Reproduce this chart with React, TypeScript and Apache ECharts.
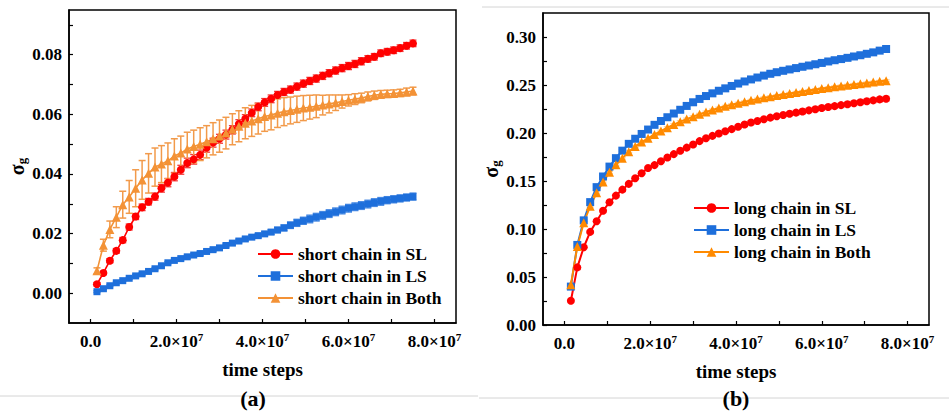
import React, { useEffect, useRef } from "react";
import * as echarts from "echarts";

// time steps in units of 1e6
const timeStepsM = [1.5,3,4.5,6,7.5,9,10.5,12,13.5,15,16.5,18,19.5,21,22.5,24,25.5,27,28.5,30,31.5,33,34.5,36,37.5,39,40.5,42,43.5,45,46.5,48,49.5,51,52.5,54,55.5,57,58.5,60,61.5,63,64.5,66,67.5,69,70.5,72,73.5,75];

const shortSL = [0.0030,0.0068,0.0109,0.0142,0.0178,0.0222,0.0257,0.0288,0.0307,0.0324,0.0352,0.0371,0.0391,0.0414,0.0437,0.0449,0.0464,0.0488,0.0505,0.0518,0.0532,0.0548,0.0568,0.0585,0.0605,0.0625,0.0640,0.0652,0.0665,0.0675,0.0683,0.0693,0.0703,0.0712,0.0720,0.0729,0.0738,0.0747,0.0755,0.0762,0.0769,0.0778,0.0786,0.0793,0.0805,0.0810,0.0815,0.0822,0.0830,0.0838];
const shortSLErr = [0.0006,0.0006,0.0007,0.0008,0.0009,0.001,0.001,0.0011,0.0011,0.0012,0.0013,0.0014,0.0014,0.0015,0.0016,0.0016,0.0016,0.0015,0.0015,0.0015,0.0015,0.0014,0.0014,0.0014,0.0013,0.0013,0.0013,0.0013,0.0012,0.0012,0.0012,0.0012,0.0012,0.0012,0.0012,0.0012,0.0012,0.0012,0.0012,0.0012,0.0012,0.0012,0.0011,0.0011,0.0011,0.0011,0.0011,0.0011,0.0011,0.0011];

const shortLS = [0.0005,0.0015,0.0025,0.0035,0.0042,0.0050,0.0058,0.0065,0.0073,0.0082,0.0092,0.0102,0.0110,0.0116,0.0122,0.0128,0.0133,0.0140,0.0146,0.0152,0.0160,0.0168,0.0175,0.0182,0.0188,0.0193,0.0199,0.0205,0.0212,0.0219,0.0228,0.0236,0.0243,0.0249,0.0255,0.0261,0.0267,0.0273,0.0279,0.0285,0.0290,0.0294,0.0299,0.0304,0.0308,0.0312,0.0315,0.0318,0.0321,0.0324];
const shortLSErr = [0.0003,0.0003,0.0003,0.0003,0.0003,0.0003,0.0004,0.0004,0.0004,0.0004,0.0004,0.0004,0.0004,0.0004,0.0005,0.0005,0.0005,0.0005,0.0005,0.0005,0.0005,0.0006,0.0006,0.0006,0.0006,0.0007,0.0007,0.0008,0.0009,0.001,0.0011,0.0012,0.0012,0.0013,0.0013,0.0013,0.0013,0.0013,0.0013,0.0013,0.0013,0.0013,0.0013,0.0013,0.0013,0.0012,0.0012,0.0012,0.0012,0.0012];

const shortBoth = [0.0075,0.0161,0.0214,0.0255,0.0297,0.0323,0.0352,0.0380,0.0402,0.0423,0.0433,0.0444,0.0460,0.0470,0.0484,0.0492,0.0500,0.0508,0.0518,0.0527,0.0537,0.0550,0.0560,0.0570,0.0578,0.0585,0.0593,0.0598,0.0604,0.0609,0.0613,0.0617,0.0621,0.0624,0.0627,0.0631,0.0635,0.0639,0.0643,0.0647,0.0651,0.0655,0.0660,0.0664,0.0667,0.0669,0.0670,0.0672,0.0675,0.0678];
const shortBothErr = [0.001,0.002,0.0028,0.0035,0.0045,0.0055,0.0062,0.0065,0.0066,0.0064,0.0062,0.006,0.0058,0.0057,0.0056,0.0055,0.0055,0.0054,0.0054,0.0054,0.0053,0.0052,0.0052,0.0052,0.0052,0.0051,0.005,0.005,0.0048,0.0047,0.0045,0.0044,0.0042,0.004,0.0038,0.0033,0.003,0.0026,0.0022,0.0019,0.0018,0.0016,0.0015,0.0014,0.0013,0.0012,0.0012,0.0012,0.0013,0.0013];

const longSL = [0.0253,0.060,0.081,0.097,0.108,0.119,0.1278,0.1348,0.141,0.147,0.1528,0.158,0.1636,0.1665,0.1705,0.1745,0.178,0.1815,0.1848,0.188,0.1915,0.1945,0.197,0.1995,0.2018,0.204,0.2065,0.2088,0.211,0.2125,0.2143,0.216,0.2175,0.2188,0.22,0.2212,0.2224,0.2236,0.2248,0.226,0.227,0.228,0.229,0.23,0.231,0.232,0.233,0.234,0.235,0.2357];
const longSLErr = [0.001,0.001,0.001,0.001,0.001,0.001,0.001,0.001,0.001,0.001,0.001,0.001,0.001,0.001,0.001,0.001,0.001,0.001,0.001,0.001,0.0015,0.0015,0.0015,0.0015,0.0015,0.0015,0.0015,0.0015,0.0015,0.0015,0.0015,0.0015,0.0015,0.0015,0.0015,0.0025,0.0025,0.0025,0.0025,0.0025,0.0025,0.0025,0.0025,0.0025,0.0025,0.0025,0.0025,0.0025,0.0025,0.0025];

const longLS = [0.040,0.0834,0.109,0.128,0.1436,0.1547,0.165,0.1738,0.1816,0.1887,0.194,0.199,0.2036,0.2085,0.2125,0.2164,0.2203,0.2242,0.2282,0.232,0.2355,0.2385,0.2413,0.244,0.2465,0.249,0.2515,0.2537,0.2558,0.2578,0.2598,0.2617,0.2633,0.2648,0.2662,0.2676,0.269,0.2703,0.2716,0.273,0.2745,0.2758,0.277,0.2783,0.2797,0.281,0.2825,0.284,0.2858,0.2875];
const longLSErr = [0.001,0.001,0.001,0.001,0.001,0.001,0.001,0.001,0.001,0.001,0.001,0.001,0.001,0.001,0.001,0.003,0.003,0.003,0.003,0.003,0.003,0.003,0.003,0.003,0.003,0.003,0.003,0.003,0.003,0.003,0.003,0.003,0.003,0.003,0.003,0.003,0.003,0.003,0.003,0.003,0.002,0.002,0.002,0.002,0.002,0.002,0.002,0.002,0.002,0.002];

const longBoth = [0.042,0.0817,0.1065,0.1237,0.1377,0.149,0.159,0.1668,0.1738,0.1805,0.186,0.1905,0.1945,0.1985,0.202,0.2055,0.2088,0.2118,0.2145,0.217,0.2195,0.2218,0.224,0.226,0.2278,0.2295,0.231,0.2325,0.234,0.2353,0.2366,0.2378,0.239,0.2401,0.2412,0.2423,0.2433,0.2443,0.2453,0.2463,0.2472,0.2481,0.249,0.2498,0.2506,0.2514,0.2522,0.253,0.2538,0.2545];
const longBothErr = [0.001,0.001,0.001,0.001,0.001,0.001,0.001,0.001,0.001,0.001,0.001,0.001,0.001,0.001,0.001,0.001,0.001,0.001,0.001,0.001,0.001,0.001,0.001,0.001,0.001,0.001,0.001,0.001,0.001,0.001,0.001,0.001,0.001,0.001,0.001,0.001,0.001,0.001,0.001,0.001,0.001,0.001,0.001,0.001,0.001,0.001,0.001,0.001,0.001,0.001];

const xLabelValues = [0, 2e7, 4e7, 6e7, 8e7];
const xTickValues = [0, 1e7, 2e7, 3e7, 4e7, 5e7, 6e7, 7e7, 8e7];
const yLabelsA = [0, 0.02, 0.04, 0.06, 0.08];
const yTicksA = [0, 0.01, 0.02, 0.03, 0.04, 0.05, 0.06, 0.07, 0.08, 0.09];
const yLabelsB = [0, 0.05, 0.1, 0.15, 0.2, 0.25, 0.3];
const yTicksB = [0, 0.025, 0.05, 0.075, 0.1, 0.125, 0.15, 0.175, 0.2, 0.225, 0.25, 0.275, 0.3];

const namesA = ["short chain in SL", "short chain in LS", "short chain in Both"];
const namesB = ["long chain in SL", "long chain in LS", "long chain in Both"];

const FONT = "'Liberation Serif', 'Times New Roman', serif";

const RED = "#FF0000";
const BLUE = "#1E6FDB";
const ORANGE_A = "#F39236";
const ORANGE_B = "#FF8A00";

function pts(vals: number[]) {
  return vals.map((v, i) => [timeStepsM[i] * 1e6, v]);
}
function errPts(vals: number[], errs: number[]) {
  return vals.map((v, i) => [timeStepsM[i] * 1e6, v, errs[i]]);
}

function lineSeries(name: string, idx: number, vals: number[], color: string, symbol: string, size: number, lw: number) {
  return {
    type: "line",
    name,
    xAxisIndex: idx,
    yAxisIndex: idx,
    data: pts(vals),
    symbol,
    symbolSize: size,
    showSymbol: true,
    lineStyle: { color, width: lw },
    itemStyle: { color },
    z: 3,
  };
}

function errSeries(name: string, idx: number, vals: number[], errs: number[], color: string, width: number) {
  return {
    type: "custom",
    name,
    xAxisIndex: idx,
    yAxisIndex: idx,
    data: errPts(vals, errs),
    silent: true,
    z: 2,
    encode: { x: 0, y: 1 },
    renderItem: (params: any, api: any) => {
      const x = api.value(0);
      const y = api.value(1);
      const e = api.value(2);
      const lo = api.coord([x, y - e]);
      const hi = api.coord([x, y + e]);
      const w = 3.5;
      const st = { stroke: color, lineWidth: width };
      return {
        type: "group",
        children: [
          { type: "line", shape: { x1: lo[0], y1: lo[1], x2: hi[0], y2: hi[1] }, style: st },
          { type: "line", shape: { x1: lo[0] - w, y1: lo[1], x2: lo[0] + w, y2: lo[1] }, style: st },
          { type: "line", shape: { x1: hi[0] - w, y1: hi[1], x2: hi[0] + w, y2: hi[1] }, style: st },
        ],
      };
    },
  };
}

const labelRich = {
  b: { fontFamily: FONT, fontWeight: "bold", fontSize: 17, color: "#000", lineHeight: 20 },
  sup: { fontFamily: FONT, fontWeight: "bold", fontSize: 11, color: "#000", lineHeight: 10, verticalAlign: "top" },
};

function xAxis(gridIndex: number) {
  return {
    type: "value",
    gridIndex,
    min: -5e6,
    max: 8.5e7,
    name: "time steps",
    nameLocation: "middle",
    nameGap: 37,
    nameTextStyle: { fontFamily: FONT, fontWeight: "bold", fontSize: 19, color: "#000" },
    axisLine: { show: true, onZero: false, lineStyle: { color: "#000", width: 1.5 } },
    axisTick: { show: true, inside: true, length: 4, customValues: xTickValues, lineStyle: { color: "#000", width: 1.2 } },
    axisLabel: {
      show: true,
      margin: 8,
      customValues: xLabelValues,
      formatter: (v: number) => (v === 0 ? "{b|0.0}" : `{b|${(v / 1e7).toFixed(1)}×10}{sup|7}`),
      rich: labelRich,
    },
    splitLine: { show: false },
  };
}

function yAxis(gridIndex: number, min: number, max: number, labels: number[], ticks: number[]) {
  return {
    type: "value",
    gridIndex,
    min,
    max,
    name: "{s|σ}{g|g}",
    nameLocation: "middle",
    nameGap: 38,
    nameTextStyle: {
      rich: {
        s: { fontFamily: FONT, fontWeight: "bold", fontSize: 20, color: "#000", lineHeight: 22 },
        g: { fontFamily: FONT, fontWeight: "bold", fontSize: 13, color: "#000", lineHeight: 12, verticalAlign: "bottom" },
      },
    },
    axisLine: { show: true, onZero: false, lineStyle: { color: "#000", width: 1.5 } },
    axisTick: { show: true, inside: true, length: 4, customValues: ticks, lineStyle: { color: "#000", width: 1.2 } },
    axisLabel: {
      show: true,
      margin: 7,
      customValues: labels,
      formatter: (v: number) => v.toFixed(2),
      fontFamily: FONT,
      fontWeight: "bold",
      fontSize: 17,
      color: "#000",
    },
    splitLine: { show: false },
  };
}

function legend(names: string[], left: number, top: number) {
  return {
    data: names,
    orient: "vertical",
    left,
    top,
    itemWidth: 35,
    itemHeight: 12,
    itemGap: 0,
    padding: 0,
    selectedMode: false,
    textStyle: { fontFamily: FONT, fontWeight: "bold", fontSize: 17.5, color: "#000", lineHeight: 22 },
  };
}

export default function App() {
  const ref = useRef<HTMLDivElement>(null);
  useEffect(() => {
    if (!ref.current) return;
    const chart = echarts.init(ref.current, undefined, { renderer: "svg" });
    const option: any = {
      animation: false,
      backgroundColor: "#fff",
      grid: [
        { left: 69, top: 10, width: 387, height: 313, show: true, borderColor: "#000", borderWidth: 1.5, backgroundColor: "transparent" },
        { left: 543, top: 13, width: 386, height: 312, show: true, borderColor: "#000", borderWidth: 1.5, backgroundColor: "transparent" },
      ],
      xAxis: [xAxis(0), xAxis(1)],
      yAxis: [
        yAxis(0, -0.01, 0.095, yLabelsA, yTicksA),
        yAxis(1, 0, 0.325, yLabelsB, yTicksB),
      ],
      legend: [legend(namesA, 257, 243), legend(namesB, 693, 197)],
      series: [
        errSeries("errA0", 0, shortSL, shortSLErr, "#F23A3A", 1.3),
        errSeries("errA1", 0, shortLS, shortLSErr, "#4A8BE3", 1.3),
        errSeries("errA2", 0, shortBoth, shortBothErr, "#F29A4A", 1.5),
        lineSeries(namesA[0], 0, shortSL, RED, "circle", 8, 1.6),
        lineSeries(namesA[1], 0, shortLS, BLUE, "rect", 7, 1.6),
        lineSeries(namesA[2], 0, shortBoth, ORANGE_A, "triangle", 9, 1.6),
        errSeries("errB0", 1, longSL, longSLErr, "rgba(255,60,60,0.45)", 1.2),
        errSeries("errB1", 1, longLS, longLSErr, "rgba(30,111,219,0.35)", 1.2),
        errSeries("errB2", 1, longBoth, longBothErr, "rgba(255,138,0,0.4)", 1.2),
        lineSeries(namesB[0], 1, longSL, RED, "circle", 8, 2),
        lineSeries(namesB[1], 1, longLS, BLUE, "rect", 8, 2),
        lineSeries(namesB[2], 1, longBoth, ORANGE_B, "triangle", 9, 2),
      ],
      graphic: [
        { type: "line", shape: { x1: 0, y1: 396, x2: 478, y2: 396 }, style: { stroke: "#d4d4d4", lineWidth: 1 } },
        { type: "line", shape: { x1: 479, y1: 398, x2: 949, y2: 398 }, style: { stroke: "#d4d4d4", lineWidth: 1 } },
        { type: "line", shape: { x1: 482, y1: 7, x2: 949, y2: 7 }, style: { stroke: "#d4d4d4", lineWidth: 1 } },
        { type: "text", x: 253, y: 398, style: { text: "(a)", fill: "#000", font: `bold 22px ${FONT}`, textAlign: "center", textVerticalAlign: "middle" } },
        { type: "text", x: 736, y: 398, style: { text: "(b)", fill: "#000", font: `bold 22px ${FONT}`, textAlign: "center", textVerticalAlign: "middle" } },
      ],
    };
    chart.setOption(option);
    return () => chart.dispose();
  }, []);
  return <div ref={ref} style={{ position: "absolute", left: 0, top: 0, width: 949, height: 415 }} />;
}
